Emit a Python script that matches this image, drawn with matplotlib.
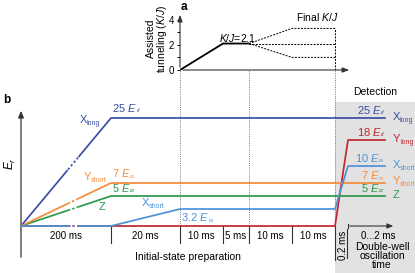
import numpy as np
import matplotlib
matplotlib.use('Agg')
import matplotlib.pyplot as plt
from matplotlib.patches import Rectangle

plt.rcParams['font.family'] = ['Liberation Sans', 'DejaVu Sans']
plt.rcParams['mathtext.fontset'] = 'custom'
plt.rcParams['mathtext.rm'] = 'Liberation Sans'
plt.rcParams['mathtext.it'] = 'Liberation Sans:italic'
plt.rcParams['mathtext.bf'] = 'Liberation Sans:bold'

# ---------------- data ----------------
seg_labels = ['200 ms', '20 ms', '10 ms', '5 ms', '10 ms', '10 ms']
beam_main = ['X', 'Y', 'X', 'Y', 'Z']
beam_sub = ['long', 'long', 'short', 'short', '']
prep_energy = [25, 0, 3.2, 7, 5]
final_energy = [25, 18, 10, 7, 5]
energy_units = ['rl', 'rl', 'rs', 'rs', 'rz']
ramp_segment = [0, -1, 1, 0, 0]            # prep segment in which each beam ramps up
prep_height = [108, 0, 17, 43, 30]          # schematic heights
final_height = [108, 86, 60, 43, 30]
beam_colors = ['#3b4ea6', '#c1272d', '#4b93d8', '#f58a3a', '#2b9a4b']

kj_plateau = 2.1
kj_final = [3.3, 2.1, 1.0]

# ---------------- layout ----------------
W, H = 415, 273
seg_widths = [90, 69, 43, 26, 43, 43]
bnd = np.concatenate([[0], np.cumsum(seg_widths)])
det_ramp = 13
det_end = 364
brk0, brk1 = 46, 58
x0px, y0px = 21, 226
lw = 1.25
FS_NAME, FS_SUB, FS_E, FS_ESUB = 8, 5, 8, 4.5

fig = plt.figure(figsize=(W / 100, H / 100), dpi=100)
ax = fig.add_axes([0, 0, 1, 1])
ax.set_xlim(-x0px, W - x0px)
ax.set_ylim(y0px - H, y0px)
ax.axis('off')
renderer = fig.canvas.get_renderer()


def text_w(s, size, style='normal'):
    t = ax.text(0, 0, s, fontsize=size, style=style)
    w = t.get_window_extent(renderer).width
    t.remove()
    return w


def sublabel(x, y, main, sub, color, size, subsize, ha='left', sub_style='normal', dy=-3.5):
    wm = text_w(main, size)
    ws = text_w(sub, subsize, sub_style) if sub else 0
    if ha == 'right':
        xs = x - wm - ws
    elif ha == 'center':
        xs = x - (wm + ws) / 2
    else:
        xs = x
    ax.text(xs, y, main, ha='left', va='center', fontsize=size, color=color)
    if sub:
        ax.text(xs + wm - 0.5, y + dy, sub, ha='left', va='center', fontsize=subsize,
                color=color, style=sub_style)


def energy_label(x, y, val, unit, color, ha):
    sublabel(x, y, r'%g $E$' % val, unit, color, FS_E, FS_ESUB, ha=ha, sub_style='italic', dy=-3)


# detection shading
ax.add_patch(Rectangle((bnd[-1], y0px - H), W, 124 - (y0px - H), color='#e2e2e2', lw=0, zorder=0))
ax.text(bnd[-1] + 40, 134, 'Detection', ha='center', va='center', fontsize=7.5)

# dotted guide lines
for b in (bnd[2], bnd[4], bnd[6]):
    ax.plot([b, b], [0, 156], color='#777777', lw=0.7, ls=(0, (1, 1.3)), zorder=1)
# solid ticks
for b in bnd[1:6]:
    ax.plot([b, b], [0, -17], color='#333333', lw=0.8)
ax.plot([bnd[6], bnd[6]], [0, -34], color='#333333', lw=0.8)
ax.plot([bnd[6] + 12, bnd[6] + 12], [-3, -32], color='#333333', lw=0.8)

for i, lab in enumerate(seg_labels):
    ax.text((bnd[i] + bnd[i + 1]) / 2, -10, lab, ha='center', va='center', fontsize=7)
ax.text(167, -31, 'Initial-state preparation', ha='center', va='center', fontsize=7.5)
ax.text(bnd[6] + 7.5, -19, '0.2 ms', rotation=90, ha='center', va='center', fontsize=7)
ax.annotate('', xy=(bnd[6] + 61, 0), xytext=(bnd[6] + 12, 0),
            arrowprops=dict(arrowstyle='-|>,head_length=0.35,head_width=0.15', lw=0.8, color='#333333'))
ax.plot([bnd[6] + 13, bnd[6] + 13], [-2, 2], color='#333333', lw=0.8)
ax.text(bnd[6] + 43, -10, '0...2 ms', ha='center', va='center', fontsize=7)
ax.text(bnd[6] + 47, -30, 'Double-well\noscillation\ntime', ha='center', va='center',
        fontsize=7.5, linespacing=0.85)

# y axis of panel b
ax.annotate('', xy=(0, 118), xytext=(0, -34),
            arrowprops=dict(arrowstyle='-|>,head_length=0.4,head_width=0.17', lw=0.9, color='#333333'))
ax.text(-11, 62, r'$E_{r}$', rotation=90, ha='center', va='center', fontsize=8.5)
ax.text(-14, 126, 'b', fontweight='bold', ha='center', va='center', fontsize=8.5)


def beam_path(i):
    h0, h1 = prep_height[i], final_height[i]
    if ramp_segment[i] == 0:
        xs, ys = [0, bnd[1]], [0, h0]
    elif ramp_segment[i] == 1:
        xs, ys = [0, bnd[1], bnd[2]], [0, 0, h0]
    else:
        xs, ys = [0], [0]
    xs = xs + [bnd[6]]
    ys = ys + [h0]
    if h1 != h0:
        xs = xs + [bnd[6] + det_ramp]
        ys = ys + [h1]
    xs = xs + [det_end]
    ys = ys + [h1]
    return np.array(xs, float), np.array(ys, float)


order = [1, 0, 4, 3, 2]
for z, i in enumerate(order):
    xs, ys = beam_path(i)
    c = beam_colors[i]
    ya, yb = np.interp([brk0, brk1], xs, ys)
    m1 = xs < brk0
    ax.plot(np.r_[xs[m1], brk0], np.r_[ys[m1], ya], color=c, lw=lw, zorder=3 + z)
    ax.plot([brk0 + 1, brk1 - 1], [ya + (yb - ya) / 12, yb - (yb - ya) / 12], color=c, lw=lw,
            ls=(0, (1.3, 1.3)), zorder=3 + z)
    m2 = xs > brk1
    ax.plot(np.r_[brk1, xs[m2]], np.r_[yb, ys[m2]], color=c, lw=lw, zorder=3 + z)

    # right-hand labels
    energy_label(det_end, final_height[i] + 8, final_energy[i], energy_units[i], c, 'right')
    sublabel(det_end + 8, final_height[i] + 1.5, beam_main[i], beam_sub[i], c, FS_NAME, FS_SUB)

# left-hand labels
c = beam_colors
sublabel(79, 106, beam_main[0], beam_sub[0], c[0], FS_NAME, FS_SUB, ha='right')
energy_label(bnd[1] + 1, prep_height[0] + 10, prep_energy[0], energy_units[0], c[0], 'left')
sublabel(86, 49, beam_main[3], beam_sub[3], c[3], FS_NAME, FS_SUB, ha='right')
energy_label(bnd[1] + 1, prep_height[3] + 10, prep_energy[3], energy_units[3], c[3], 'left')
energy_label(bnd[1] + 1, prep_height[4] + 8, prep_energy[4], energy_units[4], c[4], 'left')
sublabel(80.5, 18.5, beam_main[4], beam_sub[4], c[4], FS_NAME, FS_SUB, ha='center')
sublabel(121, 23, beam_main[2], beam_sub[2], c[2], FS_NAME, FS_SUB)
energy_label(bnd[2] + 1, prep_height[2] - 8, prep_energy[2], energy_units[2], c[2], 'left')

# ---------------- panel a ----------------
px_per_unit = 12.6
a_left, a_right, a_top = bnd[2], 331, 4.6
axa = fig.add_axes([(a_left + x0px) / W, (H - 70) / H, (a_right - a_left) / W,
                    a_top * px_per_unit / H])
axa.set_xlim(a_left, a_right)
axa.set_ylim(0, a_top)
axa.patch.set_alpha(0)
for s in axa.spines.values():
    s.set_visible(False)
axa.set_xticks([])
axa.set_yticks([0, 2, 4])
axa.set_yticks([1, 3], minor=True)
axa.tick_params(axis='y', which='both', length=2.5, width=0.7, pad=2, labelsize=7)
axa.annotate('', xy=(0, 1), xytext=(0, 0), xycoords='axes fraction',
             arrowprops=dict(arrowstyle='-|>,head_length=0.4,head_width=0.15', lw=0.8, color='#333333'))
axa.annotate('', xy=(1, 0), xytext=(0, 0), xycoords='axes fraction',
             arrowprops=dict(arrowstyle='-|>,head_length=0.4,head_width=0.15', lw=0.8, color='#333333'))
axa.plot([bnd[2], bnd[3], bnd[4]], [0, kj_plateau, kj_plateau], color='black', lw=1.3)
for v in kj_final:
    axa.plot([bnd[4], bnd[5], bnd[6]], [kj_plateau, v, v], color='black', lw=0.7, ls=(0, (2, 1.3)))
axa.plot([bnd[6], bnd[6]], [0, max(kj_final)], color='black', lw=0.7, ls=(0, (2, 1.3)))
axa.text(217, 2.55, r'$K$/$J$=2.1', ha='center', va='center', fontsize=7.5)
axa.text(296, 4.2, r'Final $K$/$J$', ha='center', va='center', fontsize=7.5)
axa.text(136, 2.5, 'Assisted\ntunneling ($K$/$J$)', rotation=90, ha='center', va='center',
         fontsize=7.5, linespacing=0.9)
axa.text(163, 5.0, 'a', fontweight='bold', ha='center', va='center', fontsize=8.5, clip_on=False)

fig.savefig('out.png', dpi=100)
